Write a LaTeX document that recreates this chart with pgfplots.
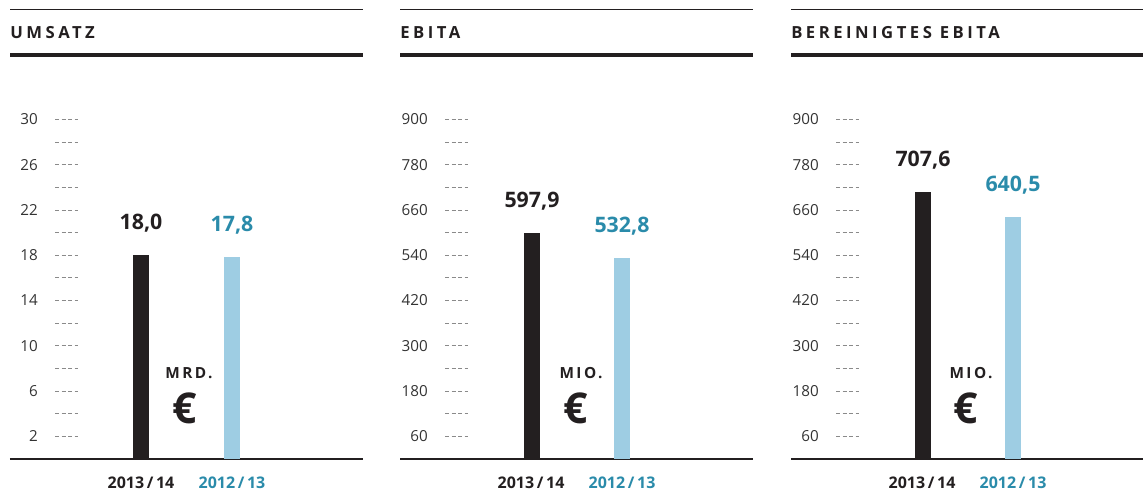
\documentclass[border=0pt]{standalone}
\usepackage{pgfplots}
\pgfplotsset{compat=1.18}
\usepackage{fontspec}
\setmainfont{Open Sans}
\newfontfamily\titlefont{Open Sans}[LetterSpace=21]
\newfontfamily\unitfont{Open Sans}[LetterSpace=16]
\definecolor{rulecol}{HTML}{231F20}
\definecolor{barblack}{HTML}{231F20}
\definecolor{barblue}{HTML}{9ECDE3}
\definecolor{tealtxt}{HTML}{2A8BAA}
\definecolor{ticktext}{HTML}{333333}
\definecolor{dashcol}{HTML}{8A8A8A}

\pgfplotsset{
  panel/.style={
    scale only axis, width=264.75pt, height=339.6pt,
    xmin=0, xmax=353, ymin=0,
    enlargelimits=false, clip=false,
    axis x line=bottom, axis y line=left,
    axis line style={-},
    x axis line style={draw=rulecol, line width=1.5pt},
    y axis line style={draw=none},
    xtick={131,222},
    xticklabels={{\color{barblack}2013\,/\,14},{\color{tealtxt}2012\,/\,13}},
    xtick style={draw=none},
    xticklabel style={font=\fontsize{12}{14}\selectfont\bfseries, anchor=base, inner sep=0pt, yshift=-22.5pt},
    tick align=inside,
    major tick length=17.6pt, minor tick length=17.6pt,
    ytick style={draw=dashcol, line width=0.6pt, dash pattern=on 3pt off 1.875pt, xshift=33.75pt},
    yticklabel style={font=\fontsize{11.4}{13}\selectfont, text=ticktext, anchor=east, inner sep=0pt, xshift=21pt},
    /pgf/number format/assume math mode=true,
    nodes near coords={\pgfmathprintnumber[fixed,fixed zerofill,precision=1,use comma]{\pgfplotspointmeta}},
    every node near coord/.append style={font=\fontsize{16}{18}\selectfont\bfseries, anchor=base, yshift=19.2pt, inner sep=0pt},
  },
  blackbar/.style={ybar, bar width=12pt, bar shift=0pt, fill=barblack, draw=none,
    every node near coord/.append style={text=barblack}},
  bluebar/.style={ybar, bar width=12pt, bar shift=0pt, fill=barblue, draw=none,
    every node near coord/.append style={text=tealtxt}},
}

\begin{document}
\begin{tikzpicture}
\path[use as bounding box] (0,0) rectangle (857.25pt,369pt);

% Panel 1: Umsatz
\begin{axis}[panel, at={(7.5pt,24.75pt)}, anchor=south west,
  ymax=40, ytick={2,6,...,30}, minor ytick={4,8,...,28}]
\addplot[blackbar] coordinates {(131,18.0)};
\addplot[bluebar] coordinates {(222,17.8)};
\end{axis}

% Panel 2: EBITA
\begin{axis}[panel, at={(300pt,24.75pt)}, anchor=south west,
  ymax=1200, ytick={60,180,...,900}, minor ytick={120,240,...,840}]
\addplot[blackbar] coordinates {(132,597.9)};
\addplot[bluebar] coordinates {(222,532.8)};
\end{axis}

% Panel 3: Bereinigtes EBITA
\begin{axis}[panel, at={(593.25pt,24.75pt)}, anchor=south west,
  width=264pt, xmax=352,
  ymax=1200, ytick={60,180,...,900}, minor ytick={120,240,...,840}]
\addplot[blackbar] coordinates {(132,707.6)};
\addplot[bluebar] coordinates {(222,640.5)};
\end{axis}

\begin{scope}[shift={(0pt,369pt)}, x=0.75pt, y=-0.75pt]
  \foreach \a/\b in {10/363, 400/753, 791/1143} {
    \draw[rulecol, line width=0.75pt] (\a,9.3) -- (\b,9.3);
    \draw[rulecol, line width=2.4pt] (\a,55) -- (\b,55);
  }
  \node[anchor=base west, inner sep=0pt, text=rulecol, font=\titlefont\bfseries\fontsize{12.5}{14}\selectfont] at (10,38.3) {UMSATZ};
  \node[anchor=base west, inner sep=0pt, text=rulecol, font=\titlefont\bfseries\fontsize{12.5}{14}\selectfont] at (400,38.3) {EBITA};
  \node[anchor=base west, inner sep=0pt, text=rulecol, font=\titlefont\bfseries\fontsize{12.5}{14}\selectfont] at (791,38.3) {BEREINIGTES EBITA};
  \node[anchor=base, inner sep=0pt, text=rulecol, font=\unitfont\bfseries\fontsize{11.5}{13}\selectfont] at (189,379) {MRD.};
  \node[anchor=base, inner sep=0pt, text=rulecol, font=\unitfont\bfseries\fontsize{11.5}{13}\selectfont] at (581,379) {MIO.};
  \node[anchor=base, inner sep=0pt, text=rulecol, font=\unitfont\bfseries\fontsize{11.5}{13}\selectfont] at (971,379) {MIO.};
  \node[anchor=base, inner sep=0pt, text=rulecol, font=\bfseries\fontsize{32}{36}\selectfont] at (185,424) {€};
  \node[anchor=base, inner sep=0pt, text=rulecol, font=\bfseries\fontsize{32}{36}\selectfont] at (575.5,424) {€};
  \node[anchor=base, inner sep=0pt, text=rulecol, font=\bfseries\fontsize{32}{36}\selectfont] at (966,424) {€};
\end{scope}
\end{tikzpicture}
\end{document}
